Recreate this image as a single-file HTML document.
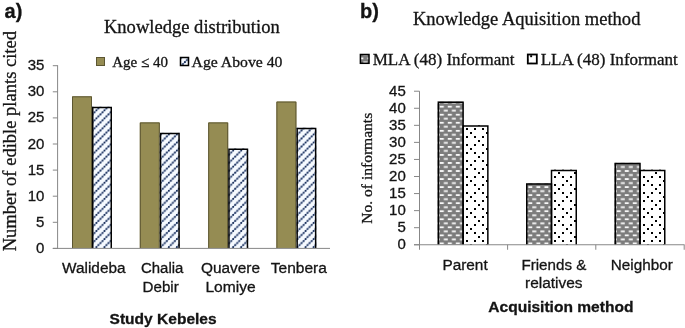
<!DOCTYPE html>
<html><head><meta charset="utf-8"><style>
html,body{margin:0;padding:0;background:#fff;width:685px;height:328px;overflow:hidden;}
svg{display:block;will-change:transform;filter:blur(0.35px);}
text{fill:#141414;stroke:#141414;stroke-width:0.3px;}
</style></head><body>
<svg width="685" height="328" viewBox="0 0 685 328">
<defs>
<pattern id="hatch" patternUnits="userSpaceOnUse" width="8" height="8" patternTransform="translate(96.44,206.86) scale(1.0055)"><rect x="-1" y="-1" width="10" height="10" fill="#f6faff"/><line x1="-2" y1="2" x2="2" y2="-2" stroke="#a4b2d6" stroke-width="1.2"/><line x1="-2" y1="10" x2="10" y2="-2" stroke="#a4b2d6" stroke-width="1.2"/><line x1="-2" y1="18" x2="18" y2="-2" stroke="#a4b2d6" stroke-width="1.2"/><rect x="-0.90" y="-0.90" width="1.8" height="1.8" fill="#1f355e"/><rect x="-0.90" y="7.10" width="1.8" height="1.8" fill="#1f355e"/><rect x="7.10" y="-0.90" width="1.8" height="1.8" fill="#1f355e"/><rect x="7.10" y="7.10" width="1.8" height="1.8" fill="#1f355e"/><rect x="1.10" y="5.10" width="1.8" height="1.8" fill="#1f355e"/><rect x="3.10" y="3.10" width="1.8" height="1.8" fill="#1f355e"/><rect x="5.10" y="1.10" width="1.8" height="1.8" fill="#1f355e"/></pattern>
<pattern id="brick" patternUnits="userSpaceOnUse" width="8" height="8" patternTransform="translate(441.8,187.1) scale(1.0055)"><rect x="-1" y="-1" width="10" height="10" fill="#7c7c7c"/><rect x="-2.00" y="-0.90" width="4" height="1.8" fill="#f8f8f8"/><rect x="-2.00" y="7.10" width="4" height="1.8" fill="#f8f8f8"/><rect x="6.00" y="-0.90" width="4" height="1.8" fill="#f8f8f8"/><rect x="6.00" y="7.10" width="4" height="1.8" fill="#f8f8f8"/><rect x="2.00" y="3.10" width="4" height="1.8" fill="#f8f8f8"/></pattern>
<pattern id="dots" patternUnits="userSpaceOnUse" width="16" height="16" patternTransform="translate(466.8,184.9) scale(1.0055)"><rect x="-1" y="-1" width="18" height="18" fill="#ffffff"/><rect x="-1.00" y="-1.00" width="2" height="2" fill="#000"/><rect x="-1.00" y="15.00" width="2" height="2" fill="#000"/><rect x="15.00" y="-1.00" width="2" height="2" fill="#000"/><rect x="15.00" y="15.00" width="2" height="2" fill="#000"/><rect x="7.00" y="-1.00" width="2" height="2" fill="#000"/><rect x="7.00" y="15.00" width="2" height="2" fill="#000"/><rect x="-1.00" y="7.00" width="2" height="2" fill="#000"/><rect x="15.00" y="7.00" width="2" height="2" fill="#000"/><rect x="7.00" y="7.00" width="2" height="2" fill="#000"/><rect x="3.00" y="11.00" width="2" height="2" fill="#000"/><rect x="11.00" y="3.00" width="2" height="2" fill="#000"/></pattern>
</defs>
<rect width="685" height="328" fill="#fff"/>
<rect x="96.5" y="57.5" width="8" height="8" fill="#958C53" stroke="#5c5632" stroke-width="1"/>
<rect x="180.5" y="57.5" width="8" height="8" fill="url(#hatch)" stroke="#000" stroke-width="1.5"/>
<rect x="360.4" y="54.5" width="8.6" height="8.8" fill="url(#brick)" stroke="#000" stroke-width="1.5"/>
<rect x="527.8" y="54.5" width="9" height="9" fill="url(#dots)" stroke="#000" stroke-width="1.8"/>
<rect x="72.0" y="96.32" width="20.0" height="151.68" fill="#958C53"/>
<path d="M72.5,248.0 V96.82 H91.5 V248.0" fill="none" stroke="#5c5632" stroke-width="1"/>
<rect x="92.0" y="106.76" width="20.0" height="141.24" fill="url(#hatch)"/>
<path d="M92.75,248.0 V107.51 H111.25 V248.0" fill="none" stroke="#000" stroke-width="1.5"/>
<rect x="139.8" y="122.42" width="20.0" height="125.58" fill="#958C53"/>
<path d="M140.3,248.0 V122.92 H159.3 V248.0" fill="none" stroke="#5c5632" stroke-width="1"/>
<rect x="159.8" y="132.86" width="20.0" height="115.14" fill="url(#hatch)"/>
<path d="M160.55,248.0 V133.61 H179.05 V248.0" fill="none" stroke="#000" stroke-width="1.5"/>
<rect x="208.2" y="122.42" width="20.0" height="125.58" fill="#958C53"/>
<path d="M208.7,248.0 V122.92 H227.7 V248.0" fill="none" stroke="#5c5632" stroke-width="1"/>
<rect x="228.2" y="148.52" width="20.0" height="99.48" fill="url(#hatch)"/>
<path d="M228.95,248.0 V149.27 H247.45 V248.0" fill="none" stroke="#000" stroke-width="1.5"/>
<rect x="276.4" y="101.54" width="20.0" height="146.46" fill="#958C53"/>
<path d="M276.9,248.0 V102.04 H295.9 V248.0" fill="none" stroke="#5c5632" stroke-width="1"/>
<rect x="296.4" y="127.64" width="20.0" height="120.36" fill="url(#hatch)"/>
<path d="M297.15,248.0 V128.39 H315.65 V248.0" fill="none" stroke="#000" stroke-width="1.5"/>
<line x1="52.8" y1="248.40" x2="57.6" y2="248.40" stroke="#878787" stroke-width="1"/>
<text x="44.4" y="252.90" font-family='"Liberation Sans", sans-serif' font-size="15" text-anchor="end">0</text>
<line x1="52.8" y1="222.30" x2="57.6" y2="222.30" stroke="#878787" stroke-width="1"/>
<text x="44.4" y="226.80" font-family='"Liberation Sans", sans-serif' font-size="15" text-anchor="end">5</text>
<line x1="52.8" y1="196.20" x2="57.6" y2="196.20" stroke="#878787" stroke-width="1"/>
<text x="44.4" y="200.70" font-family='"Liberation Sans", sans-serif' font-size="15" text-anchor="end">10</text>
<line x1="52.8" y1="170.10" x2="57.6" y2="170.10" stroke="#878787" stroke-width="1"/>
<text x="44.4" y="174.60" font-family='"Liberation Sans", sans-serif' font-size="15" text-anchor="end">15</text>
<line x1="52.8" y1="144.00" x2="57.6" y2="144.00" stroke="#878787" stroke-width="1"/>
<text x="44.4" y="148.50" font-family='"Liberation Sans", sans-serif' font-size="15" text-anchor="end">20</text>
<line x1="52.8" y1="117.90" x2="57.6" y2="117.90" stroke="#878787" stroke-width="1"/>
<text x="44.4" y="122.40" font-family='"Liberation Sans", sans-serif' font-size="15" text-anchor="end">25</text>
<line x1="52.8" y1="91.80" x2="57.6" y2="91.80" stroke="#878787" stroke-width="1"/>
<text x="44.4" y="96.30" font-family='"Liberation Sans", sans-serif' font-size="15" text-anchor="end">30</text>
<line x1="52.8" y1="65.70" x2="57.6" y2="65.70" stroke="#878787" stroke-width="1"/>
<text x="44.4" y="70.20" font-family='"Liberation Sans", sans-serif' font-size="15" text-anchor="end">35</text>
<line x1="57.6" y1="65.20" x2="57.6" y2="249.0" stroke="#878787" stroke-width="1"/>
<line x1="52.8" y1="248.4" x2="330" y2="248.4" stroke="#878787" stroke-width="1"/>
<rect x="437.6" y="101.45" width="25.5" height="143.30" fill="url(#brick)"/>
<rect x="463.1" y="125.33" width="25.5" height="119.42" fill="#fff"/>
<g fill="#000"><rect x="466.00" y="128.00" width="2.00" height="2.00"/><rect x="466.00" y="136.00" width="2.00" height="2.00"/><rect x="466.00" y="144.00" width="2.00" height="2.00"/><rect x="466.00" y="152.00" width="2.00" height="2.00"/><rect x="466.00" y="160.00" width="2.00" height="2.00"/><rect x="466.00" y="168.00" width="2.00" height="2.00"/><rect x="466.00" y="176.00" width="2.00" height="2.00"/><rect x="466.00" y="184.00" width="2.00" height="2.00"/><rect x="466.00" y="192.00" width="2.00" height="2.00"/><rect x="466.00" y="200.00" width="2.00" height="2.00"/><rect x="466.00" y="208.00" width="2.00" height="2.00"/><rect x="466.00" y="216.00" width="2.00" height="2.00"/><rect x="466.00" y="224.00" width="2.00" height="2.00"/><rect x="466.00" y="232.00" width="2.00" height="2.00"/><rect x="466.00" y="240.00" width="2.00" height="2.00"/><rect x="474.00" y="128.00" width="2.00" height="2.00"/><rect x="474.00" y="136.00" width="2.00" height="2.00"/><rect x="474.00" y="144.00" width="2.00" height="2.00"/><rect x="474.00" y="152.00" width="2.00" height="2.00"/><rect x="474.00" y="160.00" width="2.00" height="2.00"/><rect x="474.00" y="168.00" width="2.00" height="2.00"/><rect x="474.00" y="176.00" width="2.00" height="2.00"/><rect x="474.00" y="184.00" width="2.00" height="2.00"/><rect x="474.00" y="192.00" width="2.00" height="2.00"/><rect x="474.00" y="200.00" width="2.00" height="2.00"/><rect x="474.00" y="208.00" width="2.00" height="2.00"/><rect x="474.00" y="216.00" width="2.00" height="2.00"/><rect x="474.00" y="224.00" width="2.00" height="2.00"/><rect x="474.00" y="232.00" width="2.00" height="2.00"/><rect x="474.00" y="240.00" width="2.00" height="2.00"/><rect x="482.00" y="128.00" width="2.00" height="2.00"/><rect x="482.00" y="136.00" width="2.00" height="2.00"/><rect x="482.00" y="144.00" width="2.00" height="2.00"/><rect x="482.00" y="152.00" width="2.00" height="2.00"/><rect x="482.00" y="160.00" width="2.00" height="2.00"/><rect x="482.00" y="168.00" width="2.00" height="2.00"/><rect x="482.00" y="176.00" width="2.00" height="2.00"/><rect x="482.00" y="184.00" width="2.00" height="2.00"/><rect x="482.00" y="192.00" width="2.00" height="2.00"/><rect x="482.00" y="200.00" width="2.00" height="2.00"/><rect x="482.00" y="208.00" width="2.00" height="2.00"/><rect x="482.00" y="216.00" width="2.00" height="2.00"/><rect x="482.00" y="224.00" width="2.00" height="2.00"/><rect x="482.00" y="232.00" width="2.00" height="2.00"/><rect x="482.00" y="240.00" width="2.00" height="2.00"/><rect x="463.10" y="125.33" width="0.90" height="0.67"/><rect x="463.10" y="140.00" width="0.90" height="2.00"/><rect x="463.10" y="156.00" width="0.90" height="2.00"/><rect x="463.10" y="172.00" width="0.90" height="2.00"/><rect x="463.10" y="188.00" width="0.90" height="2.00"/><rect x="463.10" y="204.00" width="0.90" height="2.00"/><rect x="463.10" y="220.00" width="0.90" height="2.00"/><rect x="463.10" y="236.00" width="0.90" height="2.00"/><rect x="470.00" y="132.00" width="2.00" height="2.00"/><rect x="478.00" y="125.33" width="2.00" height="0.67"/><rect x="470.00" y="148.00" width="2.00" height="2.00"/><rect x="478.00" y="140.00" width="2.00" height="2.00"/><rect x="470.00" y="164.00" width="2.00" height="2.00"/><rect x="478.00" y="156.00" width="2.00" height="2.00"/><rect x="470.00" y="180.00" width="2.00" height="2.00"/><rect x="478.00" y="172.00" width="2.00" height="2.00"/><rect x="470.00" y="196.00" width="2.00" height="2.00"/><rect x="478.00" y="188.00" width="2.00" height="2.00"/><rect x="470.00" y="212.00" width="2.00" height="2.00"/><rect x="478.00" y="204.00" width="2.00" height="2.00"/><rect x="470.00" y="228.00" width="2.00" height="2.00"/><rect x="478.00" y="220.00" width="2.00" height="2.00"/><rect x="470.00" y="244.00" width="2.00" height="0.75"/><rect x="478.00" y="236.00" width="2.00" height="2.00"/><rect x="486.00" y="132.00" width="2.00" height="2.00"/><rect x="486.00" y="148.00" width="2.00" height="2.00"/><rect x="486.00" y="164.00" width="2.00" height="2.00"/><rect x="486.00" y="180.00" width="2.00" height="2.00"/><rect x="486.00" y="196.00" width="2.00" height="2.00"/><rect x="486.00" y="212.00" width="2.00" height="2.00"/><rect x="486.00" y="228.00" width="2.00" height="2.00"/><rect x="486.00" y="244.00" width="2.00" height="0.75"/></g>
<path d="M438.35,244.75 V102.20 H463.1 V244.75" fill="none" stroke="#000" stroke-width="1.5"/>
<path d="M463.1,244.75 V126.08 H487.85 V244.75" fill="none" stroke="#000" stroke-width="1.5"/>
<rect x="526.0" y="183.33" width="25.5" height="61.42" fill="url(#brick)"/>
<rect x="551.5" y="169.69" width="25.5" height="75.06" fill="#fff"/>
<g fill="#000"><rect x="554.00" y="169.69" width="2.00" height="0.31"/><rect x="554.00" y="176.00" width="2.00" height="2.00"/><rect x="554.00" y="184.00" width="2.00" height="2.00"/><rect x="554.00" y="192.00" width="2.00" height="2.00"/><rect x="554.00" y="200.00" width="2.00" height="2.00"/><rect x="554.00" y="208.00" width="2.00" height="2.00"/><rect x="554.00" y="216.00" width="2.00" height="2.00"/><rect x="554.00" y="224.00" width="2.00" height="2.00"/><rect x="554.00" y="232.00" width="2.00" height="2.00"/><rect x="554.00" y="240.00" width="2.00" height="2.00"/><rect x="562.00" y="169.69" width="2.00" height="0.31"/><rect x="562.00" y="176.00" width="2.00" height="2.00"/><rect x="562.00" y="184.00" width="2.00" height="2.00"/><rect x="562.00" y="192.00" width="2.00" height="2.00"/><rect x="562.00" y="200.00" width="2.00" height="2.00"/><rect x="562.00" y="208.00" width="2.00" height="2.00"/><rect x="562.00" y="216.00" width="2.00" height="2.00"/><rect x="562.00" y="224.00" width="2.00" height="2.00"/><rect x="562.00" y="232.00" width="2.00" height="2.00"/><rect x="562.00" y="240.00" width="2.00" height="2.00"/><rect x="570.00" y="169.69" width="2.00" height="0.31"/><rect x="570.00" y="176.00" width="2.00" height="2.00"/><rect x="570.00" y="184.00" width="2.00" height="2.00"/><rect x="570.00" y="192.00" width="2.00" height="2.00"/><rect x="570.00" y="200.00" width="2.00" height="2.00"/><rect x="570.00" y="208.00" width="2.00" height="2.00"/><rect x="570.00" y="216.00" width="2.00" height="2.00"/><rect x="570.00" y="224.00" width="2.00" height="2.00"/><rect x="570.00" y="232.00" width="2.00" height="2.00"/><rect x="570.00" y="240.00" width="2.00" height="2.00"/><rect x="551.50" y="180.00" width="0.50" height="2.00"/><rect x="558.00" y="172.00" width="2.00" height="2.00"/><rect x="551.50" y="196.00" width="0.50" height="2.00"/><rect x="558.00" y="188.00" width="2.00" height="2.00"/><rect x="551.50" y="212.00" width="0.50" height="2.00"/><rect x="558.00" y="204.00" width="2.00" height="2.00"/><rect x="551.50" y="228.00" width="0.50" height="2.00"/><rect x="558.00" y="220.00" width="2.00" height="2.00"/><rect x="551.50" y="244.00" width="0.50" height="0.75"/><rect x="558.00" y="236.00" width="2.00" height="2.00"/><rect x="566.00" y="180.00" width="2.00" height="2.00"/><rect x="574.00" y="172.00" width="2.00" height="2.00"/><rect x="566.00" y="196.00" width="2.00" height="2.00"/><rect x="574.00" y="188.00" width="2.00" height="2.00"/><rect x="566.00" y="212.00" width="2.00" height="2.00"/><rect x="574.00" y="204.00" width="2.00" height="2.00"/><rect x="566.00" y="228.00" width="2.00" height="2.00"/><rect x="574.00" y="220.00" width="2.00" height="2.00"/><rect x="566.00" y="244.00" width="2.00" height="0.75"/><rect x="574.00" y="236.00" width="2.00" height="2.00"/></g>
<path d="M526.75,244.75 V184.08 H551.5 V244.75" fill="none" stroke="#000" stroke-width="1.5"/>
<path d="M551.5,244.75 V170.44 H576.25 V244.75" fill="none" stroke="#000" stroke-width="1.5"/>
<rect x="614.5" y="162.86" width="25.5" height="81.89" fill="url(#brick)"/>
<rect x="640.0" y="169.69" width="25.5" height="75.06" fill="#fff"/>
<g fill="#000"><rect x="643.00" y="169.69" width="2.00" height="0.31"/><rect x="643.00" y="176.00" width="2.00" height="2.00"/><rect x="643.00" y="184.00" width="2.00" height="2.00"/><rect x="643.00" y="192.00" width="2.00" height="2.00"/><rect x="643.00" y="200.00" width="2.00" height="2.00"/><rect x="643.00" y="208.00" width="2.00" height="2.00"/><rect x="643.00" y="216.00" width="2.00" height="2.00"/><rect x="643.00" y="224.00" width="2.00" height="2.00"/><rect x="643.00" y="232.00" width="2.00" height="2.00"/><rect x="643.00" y="240.00" width="2.00" height="2.00"/><rect x="651.00" y="169.69" width="2.00" height="0.31"/><rect x="651.00" y="176.00" width="2.00" height="2.00"/><rect x="651.00" y="184.00" width="2.00" height="2.00"/><rect x="651.00" y="192.00" width="2.00" height="2.00"/><rect x="651.00" y="200.00" width="2.00" height="2.00"/><rect x="651.00" y="208.00" width="2.00" height="2.00"/><rect x="651.00" y="216.00" width="2.00" height="2.00"/><rect x="651.00" y="224.00" width="2.00" height="2.00"/><rect x="651.00" y="232.00" width="2.00" height="2.00"/><rect x="651.00" y="240.00" width="2.00" height="2.00"/><rect x="659.00" y="169.69" width="2.00" height="0.31"/><rect x="659.00" y="176.00" width="2.00" height="2.00"/><rect x="659.00" y="184.00" width="2.00" height="2.00"/><rect x="659.00" y="192.00" width="2.00" height="2.00"/><rect x="659.00" y="200.00" width="2.00" height="2.00"/><rect x="659.00" y="208.00" width="2.00" height="2.00"/><rect x="659.00" y="216.00" width="2.00" height="2.00"/><rect x="659.00" y="224.00" width="2.00" height="2.00"/><rect x="659.00" y="232.00" width="2.00" height="2.00"/><rect x="659.00" y="240.00" width="2.00" height="2.00"/><rect x="640.00" y="172.00" width="1.00" height="2.00"/><rect x="640.00" y="188.00" width="1.00" height="2.00"/><rect x="640.00" y="204.00" width="1.00" height="2.00"/><rect x="640.00" y="220.00" width="1.00" height="2.00"/><rect x="640.00" y="236.00" width="1.00" height="2.00"/><rect x="647.00" y="180.00" width="2.00" height="2.00"/><rect x="655.00" y="172.00" width="2.00" height="2.00"/><rect x="647.00" y="196.00" width="2.00" height="2.00"/><rect x="655.00" y="188.00" width="2.00" height="2.00"/><rect x="647.00" y="212.00" width="2.00" height="2.00"/><rect x="655.00" y="204.00" width="2.00" height="2.00"/><rect x="647.00" y="228.00" width="2.00" height="2.00"/><rect x="655.00" y="220.00" width="2.00" height="2.00"/><rect x="647.00" y="244.00" width="2.00" height="0.75"/><rect x="655.00" y="236.00" width="2.00" height="2.00"/><rect x="663.00" y="180.00" width="2.00" height="2.00"/><rect x="663.00" y="196.00" width="2.00" height="2.00"/><rect x="663.00" y="212.00" width="2.00" height="2.00"/><rect x="663.00" y="228.00" width="2.00" height="2.00"/><rect x="663.00" y="244.00" width="2.00" height="0.75"/></g>
<path d="M615.25,244.75 V163.61 H640.0 V244.75" fill="none" stroke="#000" stroke-width="1.5"/>
<path d="M640.0,244.75 V170.44 H664.75 V244.75" fill="none" stroke="#000" stroke-width="1.5"/>
<line x1="414" y1="244.75" x2="419.5" y2="244.75" stroke="#878787" stroke-width="1"/>
<text x="405.8" y="249.15" font-family='"Liberation Sans", sans-serif' font-size="15" text-anchor="end">0</text>
<line x1="414" y1="227.69" x2="419.5" y2="227.69" stroke="#878787" stroke-width="1"/>
<text x="405.8" y="232.09" font-family='"Liberation Sans", sans-serif' font-size="15" text-anchor="end">5</text>
<line x1="414" y1="210.63" x2="419.5" y2="210.63" stroke="#878787" stroke-width="1"/>
<text x="405.8" y="215.03" font-family='"Liberation Sans", sans-serif' font-size="15" text-anchor="end">10</text>
<line x1="414" y1="193.57" x2="419.5" y2="193.57" stroke="#878787" stroke-width="1"/>
<text x="405.8" y="197.97" font-family='"Liberation Sans", sans-serif' font-size="15" text-anchor="end">15</text>
<line x1="414" y1="176.51" x2="419.5" y2="176.51" stroke="#878787" stroke-width="1"/>
<text x="405.8" y="180.91" font-family='"Liberation Sans", sans-serif' font-size="15" text-anchor="end">20</text>
<line x1="414" y1="159.45" x2="419.5" y2="159.45" stroke="#878787" stroke-width="1"/>
<text x="405.8" y="163.85" font-family='"Liberation Sans", sans-serif' font-size="15" text-anchor="end">25</text>
<line x1="414" y1="142.39" x2="419.5" y2="142.39" stroke="#878787" stroke-width="1"/>
<text x="405.8" y="146.79" font-family='"Liberation Sans", sans-serif' font-size="15" text-anchor="end">30</text>
<line x1="414" y1="125.33" x2="419.5" y2="125.33" stroke="#878787" stroke-width="1"/>
<text x="405.8" y="129.73" font-family='"Liberation Sans", sans-serif' font-size="15" text-anchor="end">35</text>
<line x1="414" y1="108.27" x2="419.5" y2="108.27" stroke="#878787" stroke-width="1"/>
<text x="405.8" y="112.67" font-family='"Liberation Sans", sans-serif' font-size="15" text-anchor="end">40</text>
<line x1="414" y1="91.21" x2="419.5" y2="91.21" stroke="#878787" stroke-width="1"/>
<text x="405.8" y="95.61" font-family='"Liberation Sans", sans-serif' font-size="15" text-anchor="end">45</text>
<line x1="419.5" y1="91.21" x2="419.5" y2="249.75" stroke="#878787" stroke-width="1"/>
<line x1="414" y1="244.75" x2="684.5" y2="244.75" stroke="#878787" stroke-width="1"/>
<line x1="507.6" y1="244.75" x2="507.6" y2="249.75" stroke="#878787" stroke-width="1"/>
<line x1="595.8" y1="244.75" x2="595.8" y2="249.75" stroke="#878787" stroke-width="1"/>
<line x1="684.2" y1="244.75" x2="684.2" y2="249.75" stroke="#878787" stroke-width="1"/>
<text id="pa" x="4.60" y="17.8" font-family='"Liberation Sans", sans-serif' font-size="20" font-weight="bold">a)</text>
<text id="pb" x="360.00" y="17.8" font-family='"Liberation Sans", sans-serif' font-size="20" font-weight="bold">b)</text>
<text id="ta" x="103.94" y="32.6" font-family='"Liberation Serif", serif' font-size="18.4" textLength="175.76" lengthAdjust="spacingAndGlyphs">Knowledge distribution</text>
<text id="tb" x="412.94" y="24.7" font-family='"Liberation Serif", serif' font-size="18.4" textLength="227.46" lengthAdjust="spacingAndGlyphs">Knowledge Aquisition method</text>
<text id="la1" x="112.24" y="66.6" font-family='"Liberation Serif", serif' font-size="15" textLength="55.72" lengthAdjust="spacingAndGlyphs">Age ≤ 40</text>
<text id="la2" x="191.56" y="66.6" font-family='"Liberation Serif", serif' font-size="15" textLength="90.86" lengthAdjust="spacingAndGlyphs">Age Above 40</text>
<text id="lb1" x="372.69" y="64.5" font-family='"Liberation Serif", serif' font-size="17" textLength="141.73" lengthAdjust="spacingAndGlyphs">MLA (48) Informant</text>
<text id="lb2" x="540.69" y="64.5" font-family='"Liberation Serif", serif' font-size="17" textLength="137.07" lengthAdjust="spacingAndGlyphs">LLA (48) Informant</text>
<text id="ya" transform="translate(15.6,251.28) rotate(-90)" font-family='"Liberation Serif", serif' font-size="18.4" textLength="220.28" lengthAdjust="spacingAndGlyphs">Number of edible plants cited</text>
<text id="yb" transform="translate(371.6,223.66) rotate(-90)" font-family='"Liberation Serif", serif' font-size="15.4" textLength="110.87" lengthAdjust="spacingAndGlyphs">No. of informants</text>
<text id="c_wal" x="62.06" y="272.8" font-family='"Liberation Sans", sans-serif' font-size="15.4" textLength="63.46" lengthAdjust="spacingAndGlyphs">Walideba</text>
<text id="c_cha" x="141.00" y="272.7" font-family='"Liberation Sans", sans-serif' font-size="15.4" textLength="42.36" lengthAdjust="spacingAndGlyphs">Chalia</text>
<text id="c_deb" x="142.59" y="291.8" font-family='"Liberation Sans", sans-serif' font-size="15.4" textLength="36.18" lengthAdjust="spacingAndGlyphs">Debir</text>
<text id="c_qua" x="200.96" y="272.8" font-family='"Liberation Sans", sans-serif' font-size="15.4" textLength="59.06" lengthAdjust="spacingAndGlyphs">Quavere</text>
<text id="c_lom" x="205.45" y="291.8" font-family='"Liberation Sans", sans-serif' font-size="15.4" textLength="50.25" lengthAdjust="spacingAndGlyphs">Lomiye</text>
<text id="c_ten" x="270.74" y="272.8" font-family='"Liberation Sans", sans-serif' font-size="15.4" textLength="56.10" lengthAdjust="spacingAndGlyphs">Tenbera</text>
<text id="xa" x="109.59" y="323.6" font-family='"Liberation Sans", sans-serif' font-size="15.3" font-weight="bold" textLength="107.08" lengthAdjust="spacingAndGlyphs">Study Kebeles</text>
<text id="c_par" x="442.40" y="269.8" font-family='"Liberation Sans", sans-serif' font-size="15.4" textLength="45.30" lengthAdjust="spacingAndGlyphs">Parent</text>
<text id="c_fri" x="521.46" y="269.8" font-family='"Liberation Sans", sans-serif' font-size="15.4" textLength="64.82" lengthAdjust="spacingAndGlyphs">Friends &amp;</text>
<text id="c_rel" x="525.00" y="288.2" font-family='"Liberation Sans", sans-serif' font-size="15.4" textLength="57.59" lengthAdjust="spacingAndGlyphs">relatives</text>
<text id="c_nei" x="610.80" y="269.7" font-family='"Liberation Sans", sans-serif' font-size="15.4" textLength="61.96" lengthAdjust="spacingAndGlyphs">Neighbor</text>
<text id="xb" x="488.29" y="312.0" font-family='"Liberation Sans", sans-serif' font-size="15.3" font-weight="bold" textLength="145.14" lengthAdjust="spacingAndGlyphs">Acquisition method</text>
</svg>
</body></html>
